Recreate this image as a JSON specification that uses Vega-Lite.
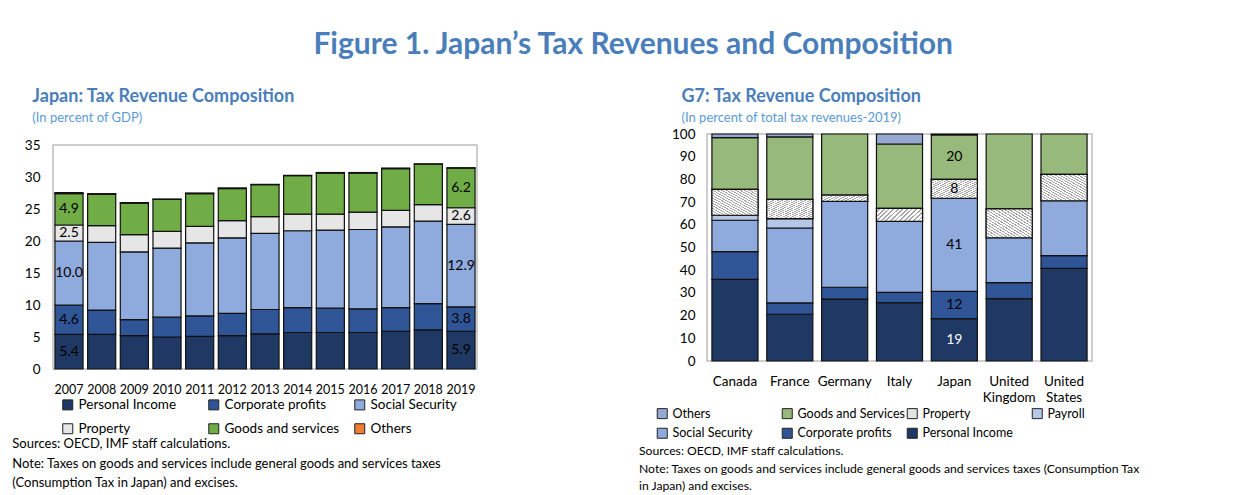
{
  "$schema": "https://vega.github.io/schema/vega-lite/v6.json",
  "background": "white",
  "padding": {"left": 12, "top": 30, "right": 0, "bottom": 0},
  "config": {
    "font": "Lato, sans-serif",
    "view": {"stroke": "#BFBFBF", "strokeWidth": 1.5},
    "axis": {"labelColor": "black", "labelFontSize": 13.5, "domain": false, "ticks": false, "grid": false, "labelOverlap": false},
    "legend": {"labelColor": "black", "labelFontSize": 13.5, "symbolType": "square", "symbolSize": 100, "symbolStrokeColor": "#222222", "symbolStrokeWidth": 1, "gridAlign": "all", "labelOffset": 4}
  },
  "title": {"text": "Figure 1. Japan’s Tax Revenues and Composition", "fontSize": 30, "fontWeight": "bold", "color": "#4A7EBB", "anchor": "middle", "offset": 27, "dx": 57},
  "spacing": 161,
  "resolve": {"scale": {"color": "independent"}, "legend": {"color": "independent"}},
  "hconcat": [
    {
      "title": {"text": ["Sources: OECD, IMF staff calculations.", "Note: Taxes on goods and services include general goods and services taxes", "(Consumption Tax in Japan) and excises."], "orient": "bottom", "anchor": "start", "fontSize": 13, "fontWeight": "normal", "color": "black", "lineHeight": 19.5, "offset": 2, "dx": -12},
      "vconcat": [
        {
          "width": 424,
          "height": 235,
          "view": {"stroke": null},
          "title": {"text": "Japan: Tax Revenue Composition", "subtitle": "(In percent of GDP)", "anchor": "start", "fontSize": 18, "fontWeight": "bold", "color": "#4A7EBB", "subtitleColor": "#5B9BD5", "subtitleFontSize": 13, "subtitlePadding": 6, "offset": 9, "dx": 8},
          "data": {"values": [
            {"year": 2007, "type": "Personal Income", "value": 5.4}, {"year": 2007, "type": "Corporate profits", "value": 4.6}, {"year": 2007, "type": "Social Security", "value": 10.0}, {"year": 2007, "type": "Property", "value": 2.5}, {"year": 2007, "type": "Goods and services", "value": 4.9}, {"year": 2007, "type": "Others", "value": 0.15},
            {"year": 2008, "type": "Personal Income", "value": 5.4}, {"year": 2008, "type": "Corporate profits", "value": 3.8}, {"year": 2008, "type": "Social Security", "value": 10.6}, {"year": 2008, "type": "Property", "value": 2.6}, {"year": 2008, "type": "Goods and services", "value": 4.9}, {"year": 2008, "type": "Others", "value": 0.1},
            {"year": 2009, "type": "Personal Income", "value": 5.2}, {"year": 2009, "type": "Corporate profits", "value": 2.5}, {"year": 2009, "type": "Social Security", "value": 10.6}, {"year": 2009, "type": "Property", "value": 2.7}, {"year": 2009, "type": "Goods and services", "value": 4.9}, {"year": 2009, "type": "Others", "value": 0.1},
            {"year": 2010, "type": "Personal Income", "value": 5.0}, {"year": 2010, "type": "Corporate profits", "value": 3.1}, {"year": 2010, "type": "Social Security", "value": 10.8}, {"year": 2010, "type": "Property", "value": 2.6}, {"year": 2010, "type": "Goods and services", "value": 5.0}, {"year": 2010, "type": "Others", "value": 0.05},
            {"year": 2011, "type": "Personal Income", "value": 5.1}, {"year": 2011, "type": "Corporate profits", "value": 3.2}, {"year": 2011, "type": "Social Security", "value": 11.4}, {"year": 2011, "type": "Property", "value": 2.6}, {"year": 2011, "type": "Goods and services", "value": 5.1}, {"year": 2011, "type": "Others", "value": 0.1},
            {"year": 2012, "type": "Personal Income", "value": 5.2}, {"year": 2012, "type": "Corporate profits", "value": 3.5}, {"year": 2012, "type": "Social Security", "value": 11.8}, {"year": 2012, "type": "Property", "value": 2.7}, {"year": 2012, "type": "Goods and services", "value": 5.0}, {"year": 2012, "type": "Others", "value": 0.1},
            {"year": 2013, "type": "Personal Income", "value": 5.5}, {"year": 2013, "type": "Corporate profits", "value": 3.8}, {"year": 2013, "type": "Social Security", "value": 11.9}, {"year": 2013, "type": "Property", "value": 2.6}, {"year": 2013, "type": "Goods and services", "value": 5.0}, {"year": 2013, "type": "Others", "value": 0.05},
            {"year": 2014, "type": "Personal Income", "value": 5.7}, {"year": 2014, "type": "Corporate profits", "value": 3.9}, {"year": 2014, "type": "Social Security", "value": 12.0}, {"year": 2014, "type": "Property", "value": 2.6}, {"year": 2014, "type": "Goods and services", "value": 6.0}, {"year": 2014, "type": "Others", "value": 0.05},
            {"year": 2015, "type": "Personal Income", "value": 5.7}, {"year": 2015, "type": "Corporate profits", "value": 3.8}, {"year": 2015, "type": "Social Security", "value": 12.2}, {"year": 2015, "type": "Property", "value": 2.5}, {"year": 2015, "type": "Goods and services", "value": 6.4}, {"year": 2015, "type": "Others", "value": 0.1},
            {"year": 2016, "type": "Personal Income", "value": 5.7}, {"year": 2016, "type": "Corporate profits", "value": 3.7}, {"year": 2016, "type": "Social Security", "value": 12.4}, {"year": 2016, "type": "Property", "value": 2.7}, {"year": 2016, "type": "Goods and services", "value": 6.1}, {"year": 2016, "type": "Others", "value": 0.1},
            {"year": 2017, "type": "Personal Income", "value": 5.9}, {"year": 2017, "type": "Corporate profits", "value": 3.7}, {"year": 2017, "type": "Social Security", "value": 12.6}, {"year": 2017, "type": "Property", "value": 2.6}, {"year": 2017, "type": "Goods and services", "value": 6.5}, {"year": 2017, "type": "Others", "value": 0.1},
            {"year": 2018, "type": "Personal Income", "value": 6.1}, {"year": 2018, "type": "Corporate profits", "value": 4.1}, {"year": 2018, "type": "Social Security", "value": 12.9}, {"year": 2018, "type": "Property", "value": 2.6}, {"year": 2018, "type": "Goods and services", "value": 6.3}, {"year": 2018, "type": "Others", "value": 0.05},
            {"year": 2019, "type": "Personal Income", "value": 5.9}, {"year": 2019, "type": "Corporate profits", "value": 3.8}, {"year": 2019, "type": "Social Security", "value": 12.9}, {"year": 2019, "type": "Property", "value": 2.6}, {"year": 2019, "type": "Goods and services", "value": 6.2}, {"year": 2019, "type": "Others", "value": 0.05}
          ]},
          "transform": [{"calculate": "indexof(['Personal Income','Corporate profits','Social Security','Property','Goods and services','Others'], datum.type)", "as": "ord"}],
          "layer": [
            {
              "data": {"values": [{"frame": "plot area"}]},
              "mark": {"type": "rect", "fill": null, "stroke": "#BFBFBF", "strokeWidth": 1.5},
              "encoding": {
                "y": {"datum": 35, "type": "quantitative", "scale": {"domain": [0, 36.72], "nice": false}, "axis": {"title": null, "values": [0, 5, 10, 15, 20, 25, 30, 35], "labelPadding": 13, "labelOverlap": false}},
                "y2": {"datum": 0}
              }
            },
            {
              "mark": {"type": "bar", "stroke": "#111111", "strokeWidth": 1.2},
              "encoding": {
                "x": {"field": "year", "type": "ordinal", "scale": {"paddingInner": 0.14, "paddingOuter": 0.06}, "axis": {"title": null, "labelAngle": 0, "labelPadding": 14, "labelFontSize": 12.5}},
                "y": {"field": "value", "type": "quantitative", "stack": "zero", "scale": {"domain": [0, 36.72], "nice": false}, "axis": {"title": null, "values": [0, 5, 10, 15, 20, 25, 30, 35], "labelPadding": 13, "labelOverlap": false}},
                "order": {"field": "ord", "type": "quantitative"},
                "color": {"field": "type", "type": "nominal",
                  "scale": {"domain": ["Personal Income", "Corporate profits", "Social Security", "Property", "Goods and services", "Others"], "range": ["#1F3864", "#2F5597", "#8FAADC", "#E7E6E6", "#70AD47", "#ED7D31"]},
                  "legend": {"orient": "none", "legendX": 8, "legendY": 264, "columns": 3, "direction": "horizontal", "title": null, "columnPadding": 12, "rowPadding": 9}}
              }
            },
            {
              "mark": {"type": "text", "fontSize": 14},
              "encoding": {
                "x": {"field": "year", "type": "ordinal", "axis": {"title": null, "labelAngle": 0, "labelPadding": 14, "labelFontSize": 12.5}},
                "y": {"field": "value", "type": "quantitative", "stack": "zero", "bandPosition": 0.5, "axis": {"title": null, "values": [0, 5, 10, 15, 20, 25, 30, 35], "labelPadding": 13, "labelOverlap": false}},
                "order": {"field": "ord", "type": "quantitative"},
                "detail": {"field": "type"},
                "text": {"condition": {"test": "(datum.year == 2007 || datum.year == 2019) && datum.type != 'Others'", "field": "value", "type": "quantitative", "format": ".1f"}, "value": ""},
                "color": {"value": "black"}
              }
            }
          ]
        }
      ]
    },
    {
      "title": {"text": ["Sources: OECD, IMF staff calculations.", "Note: Taxes on goods and services include general goods and services taxes (Consumption Tax", "in Japan) and excises."], "orient": "bottom", "anchor": "start", "fontSize": 12.2, "fontWeight": "normal", "color": "black", "lineHeight": 17.5, "offset": 4, "dx": -17},
      "vconcat": [
        {
          "width": 385,
          "height": 227,
          "title": {"text": "G7: Tax Revenue Composition", "subtitle": "(In percent of total tax revenues-2019)", "anchor": "start", "fontSize": 18, "fontWeight": "bold", "color": "#4A7EBB", "subtitleColor": "#5B9BD5", "subtitleFontSize": 13, "subtitlePadding": 6, "offset": 2, "dx": 10},
          "data": {"values": [
            {"country": "Canada", "type": "Personal Income", "value": 36.0}, {"country": "Canada", "type": "Corporate profits", "value": 12.2}, {"country": "Canada", "type": "Social Security", "value": 13.8}, {"country": "Canada", "type": "Payroll", "value": 2.2}, {"country": "Canada", "type": "Property", "value": 11.4}, {"country": "Canada", "type": "Goods and Services", "value": 22.8}, {"country": "Canada", "type": "Others", "value": 1.6},
            {"country": "France", "type": "Personal Income", "value": 20.6}, {"country": "France", "type": "Corporate profits", "value": 5.0}, {"country": "France", "type": "Social Security", "value": 33.0}, {"country": "France", "type": "Payroll", "value": 4.1}, {"country": "France", "type": "Property", "value": 8.5}, {"country": "France", "type": "Goods and Services", "value": 27.5}, {"country": "France", "type": "Others", "value": 1.3},
            {"country": "Germany", "type": "Personal Income", "value": 27.3}, {"country": "Germany", "type": "Corporate profits", "value": 5.2}, {"country": "Germany", "type": "Social Security", "value": 37.8}, {"country": "Germany", "type": "Property", "value": 2.8}, {"country": "Germany", "type": "Goods and Services", "value": 26.9},
            {"country": "Italy", "type": "Personal Income", "value": 25.7}, {"country": "Italy", "type": "Corporate profits", "value": 4.5}, {"country": "Italy", "type": "Social Security", "value": 31.3}, {"country": "Italy", "type": "Property", "value": 5.7}, {"country": "Italy", "type": "Goods and Services", "value": 28.4}, {"country": "Italy", "type": "Others", "value": 4.4},
            {"country": "Japan", "type": "Personal Income", "value": 18.7}, {"country": "Japan", "type": "Corporate profits", "value": 12.0}, {"country": "Japan", "type": "Social Security", "value": 41.0}, {"country": "Japan", "type": "Property", "value": 8.3}, {"country": "Japan", "type": "Goods and Services", "value": 19.6}, {"country": "Japan", "type": "Others", "value": 0.4},
            {"country": "United Kingdom", "type": "Personal Income", "value": 27.5}, {"country": "United Kingdom", "type": "Corporate profits", "value": 7.0}, {"country": "United Kingdom", "type": "Social Security", "value": 19.8}, {"country": "United Kingdom", "type": "Property", "value": 12.7}, {"country": "United Kingdom", "type": "Goods and Services", "value": 33.0},
            {"country": "United States", "type": "Personal Income", "value": 40.8}, {"country": "United States", "type": "Corporate profits", "value": 5.6}, {"country": "United States", "type": "Social Security", "value": 24.2}, {"country": "United States", "type": "Property", "value": 11.6}, {"country": "United States", "type": "Goods and Services", "value": 17.8}
          ]},
          "transform": [{"calculate": "indexof(['Personal Income','Corporate profits','Social Security','Payroll','Property','Goods and Services','Others'], datum.type)", "as": "ord"}],
          "encoding": {
            "x": {"field": "country", "type": "nominal", "sort": null, "scale": {"paddingInner": 0.16, "paddingOuter": 0.09}, "axis": {"title": null, "labelAngle": 0, "labelPadding": 13, "labelExpr": "split(datum.label, ' ')", "labelLineHeight": 16}}
          },
          "layer": [
            {
              "mark": {"type": "bar", "stroke": "#111111", "strokeWidth": 1.2},
              "encoding": {
                "y": {"field": "value", "type": "quantitative", "stack": "zero", "scale": {"domain": [0, 100], "nice": false}, "axis": {"title": null, "values": [0, 10, 20, 30, 40, 50, 60, 70, 80, 90, 100], "labelPadding": 12, "labelOverlap": false}},
                "order": {"field": "ord", "type": "quantitative"},
                "color": {"field": "type", "type": "nominal",
                  "scale": {"domain": ["Others", "Goods and Services", "Property", "Payroll", "Social Security", "Corporate profits", "Personal Income"],
                    "range": ["#95A9D1", "#97B97B", "#E4E4E4", "#B4C7E7", "#8FAADC", "#2F5597", "#203864"]},
                  "legend": {"orient": "none", "legendX": -51, "legendY": 273, "columns": 4, "direction": "horizontal", "title": null, "columnPadding": 0, "rowPadding": 5, "labelFontSize": 12.5}}
              }
            },
            {
              "transform": [
                {"stack": "value", "groupby": ["country"], "sort": [{"field": "ord", "order": "ascending"}], "as": ["v0", "v1"]},
                {"filter": "datum.type == 'Property'"}
              ],
              "mark": {"type": "bar", "stroke": "#111111", "strokeWidth": 1.2,
                "fill": {"gradient": "linear", "x1": 0, "y1": 1, "x2": 1, "y2": 0, "stops": [
                  {"offset": 0, "color": "#FFFFFF"}, {"offset": 0.03, "color": "#FFFFFF"}, {"offset": 0.03, "color": "#A6A6A6"}, {"offset": 0.05, "color": "#A6A6A6"},
                  {"offset": 0.05, "color": "#FFFFFF"}, {"offset": 0.08, "color": "#FFFFFF"}, {"offset": 0.08, "color": "#A6A6A6"}, {"offset": 0.1, "color": "#A6A6A6"},
                  {"offset": 0.1, "color": "#FFFFFF"}, {"offset": 0.13, "color": "#FFFFFF"}, {"offset": 0.13, "color": "#A6A6A6"}, {"offset": 0.15, "color": "#A6A6A6"},
                  {"offset": 0.15, "color": "#FFFFFF"}, {"offset": 0.18, "color": "#FFFFFF"}, {"offset": 0.18, "color": "#A6A6A6"}, {"offset": 0.2, "color": "#A6A6A6"},
                  {"offset": 0.2, "color": "#FFFFFF"}, {"offset": 0.23, "color": "#FFFFFF"}, {"offset": 0.23, "color": "#A6A6A6"}, {"offset": 0.25, "color": "#A6A6A6"},
                  {"offset": 0.25, "color": "#FFFFFF"}, {"offset": 0.28, "color": "#FFFFFF"}, {"offset": 0.28, "color": "#A6A6A6"}, {"offset": 0.3, "color": "#A6A6A6"},
                  {"offset": 0.3, "color": "#FFFFFF"}, {"offset": 0.33, "color": "#FFFFFF"}, {"offset": 0.33, "color": "#A6A6A6"}, {"offset": 0.35, "color": "#A6A6A6"},
                  {"offset": 0.35, "color": "#FFFFFF"}, {"offset": 0.38, "color": "#FFFFFF"}, {"offset": 0.38, "color": "#A6A6A6"}, {"offset": 0.4, "color": "#A6A6A6"},
                  {"offset": 0.4, "color": "#FFFFFF"}, {"offset": 0.43, "color": "#FFFFFF"}, {"offset": 0.43, "color": "#A6A6A6"}, {"offset": 0.45, "color": "#A6A6A6"},
                  {"offset": 0.45, "color": "#FFFFFF"}, {"offset": 0.48, "color": "#FFFFFF"}, {"offset": 0.48, "color": "#A6A6A6"}, {"offset": 0.5, "color": "#A6A6A6"},
                  {"offset": 0.5, "color": "#FFFFFF"}, {"offset": 0.53, "color": "#FFFFFF"}, {"offset": 0.53, "color": "#A6A6A6"}, {"offset": 0.55, "color": "#A6A6A6"},
                  {"offset": 0.55, "color": "#FFFFFF"}, {"offset": 0.58, "color": "#FFFFFF"}, {"offset": 0.58, "color": "#A6A6A6"}, {"offset": 0.6, "color": "#A6A6A6"},
                  {"offset": 0.6, "color": "#FFFFFF"}, {"offset": 0.63, "color": "#FFFFFF"}, {"offset": 0.63, "color": "#A6A6A6"}, {"offset": 0.65, "color": "#A6A6A6"},
                  {"offset": 0.65, "color": "#FFFFFF"}, {"offset": 0.68, "color": "#FFFFFF"}, {"offset": 0.68, "color": "#A6A6A6"}, {"offset": 0.7, "color": "#A6A6A6"},
                  {"offset": 0.7, "color": "#FFFFFF"}, {"offset": 0.73, "color": "#FFFFFF"}, {"offset": 0.73, "color": "#A6A6A6"}, {"offset": 0.75, "color": "#A6A6A6"},
                  {"offset": 0.75, "color": "#FFFFFF"}, {"offset": 0.78, "color": "#FFFFFF"}, {"offset": 0.78, "color": "#A6A6A6"}, {"offset": 0.8, "color": "#A6A6A6"},
                  {"offset": 0.8, "color": "#FFFFFF"}, {"offset": 0.83, "color": "#FFFFFF"}, {"offset": 0.83, "color": "#A6A6A6"}, {"offset": 0.85, "color": "#A6A6A6"},
                  {"offset": 0.85, "color": "#FFFFFF"}, {"offset": 0.88, "color": "#FFFFFF"}, {"offset": 0.88, "color": "#A6A6A6"}, {"offset": 0.9, "color": "#A6A6A6"},
                  {"offset": 0.9, "color": "#FFFFFF"}, {"offset": 0.93, "color": "#FFFFFF"}, {"offset": 0.93, "color": "#A6A6A6"}, {"offset": 0.95, "color": "#A6A6A6"},
                  {"offset": 0.95, "color": "#FFFFFF"}, {"offset": 0.98, "color": "#FFFFFF"}, {"offset": 0.98, "color": "#A6A6A6"}, {"offset": 1, "color": "#A6A6A6"}
                ]}},
              "encoding": {
                "y": {"field": "v0", "type": "quantitative", "axis": {"title": null, "values": [0, 10, 20, 30, 40, 50, 60, 70, 80, 90, 100], "labelPadding": 12, "labelOverlap": false}},
                "y2": {"field": "v1"}
              }
            },
            {
              "mark": {"type": "text", "fontSize": 14},
              "encoding": {
                "y": {"field": "value", "type": "quantitative", "stack": "zero", "bandPosition": 0.5, "axis": {"title": null, "values": [0, 10, 20, 30, 40, 50, 60, 70, 80, 90, 100], "labelPadding": 12, "labelOverlap": false}},
                "order": {"field": "ord", "type": "quantitative"},
                "detail": {"field": "type"},
                "text": {"condition": {"test": "datum.country == 'Japan' && datum.value >= 1", "field": "value", "type": "quantitative", "format": ".0f"}, "value": ""},
                "color": {"condition": {"test": "datum.type == 'Personal Income'", "value": "white"}, "value": "black"}
              }
            }
          ]
        }
      ]
    }
  ]
}
